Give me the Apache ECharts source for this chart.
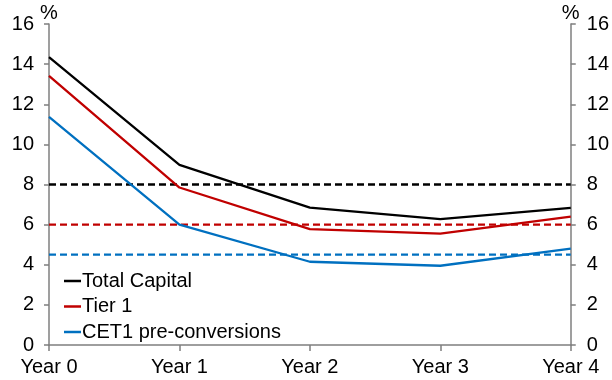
<!DOCTYPE html>
<html>
<head>
<meta charset="utf-8">
<script src="https://cdn.jsdelivr.net/npm/echarts@6/dist/echarts.min.js"></script>
<style>
  html, body { margin: 0; padding: 0; background: #fff; }
  #chart { width: 612px; height: 380px; }
</style>
</head>
<body>
<div id="chart"></div>
<script>
// Capital ratios by projection year (%)
const years = ['Year 0', 'Year 1', 'Year 2', 'Year 3', 'Year 4'];
const totalCapital = [14.35, 8.98, 6.85, 6.27, 6.83];
const tier1 = [13.42, 7.85, 5.78, 5.55, 6.40];
const cet1 = [11.37, 6.0, 4.15, 3.95, 4.80];

// Regulatory minimum levels (dashed)
const minTotalCapital = 8;
const minTier1 = 6;
const minCet1 = 4.5;

const yTicks = [0, 2, 4, 6, 8, 10, 12, 14, 16];

const BLACK = '#000000';
const RED = '#C00000';
const BLUE = '#0070C0';
const AXIS = '#7f7f7f';
const FONT = 'Liberation Sans';
const FS = 20;
const LW = 2.3;
const DASH = [7, 4];

function flat(v) { return years.map(() => v); }

function valueAxis(pos) {
  return {
    type: 'value',
    position: pos,
    min: yTicks[0],
    max: yTicks[yTicks.length - 1],
    interval: 2,
    name: '%',
    nameLocation: 'end',
    nameGap: 1,
    nameTextStyle: {
      fontFamily: FONT, fontSize: FS, color: '#000',
      align: 'center', verticalAlign: 'bottom'
    },
    axisLine: { show: true, lineStyle: { color: AXIS, width: 1.5 } },
    axisTick: { show: true, inside: false, length: 5, lineStyle: { color: AXIS, width: 1.5 } },
    axisLabel: { fontFamily: FONT, fontSize: FS, color: '#000', margin: pos === 'left' ? 15 : 16 },
    splitLine: { show: false }
  };
}

const chart = echarts.init(document.getElementById('chart'), null, { renderer: 'canvas' });

chart.setOption({
  animation: false,
  backgroundColor: '#ffffff',
  grid: { left: 49, right: 41, top: 24, bottom: 35, containLabel: false },
  legend: {
    orient: 'vertical',
    left: 59,
    top: 265,
    itemWidth: 17,
    itemHeight: 2.5,
    itemGap: 3.5,
    icon: 'rect',
    data: ['Total Capital', 'Tier 1', 'CET1 pre-conversions'],
    textStyle: {
      fontFamily: FONT, fontSize: FS, color: '#000',
      lineHeight: 22, padding: [0, 0, 0, -4]
    }
  },
  xAxis: {
    type: 'category',
    data: years,
    boundaryGap: false,
    axisLine: { show: true, lineStyle: { color: AXIS, width: 1.5 } },
    axisTick: { show: true, inside: false, length: 6, alignWithLabel: true, lineStyle: { color: AXIS, width: 1.5 } },
    axisLabel: { fontFamily: FONT, fontSize: FS, color: '#000', margin: 12, interval: 0 },
    splitLine: { show: false }
  },
  yAxis: [valueAxis('left'), valueAxis('right')],
  series: [
    {
      name: 'min Total Capital', type: 'line', data: flat(minTotalCapital),
      symbol: 'none', silent: true,
      lineStyle: { color: BLACK, width: LW, type: DASH }
    },
    {
      name: 'min Tier 1', type: 'line', data: flat(minTier1),
      symbol: 'none', silent: true,
      lineStyle: { color: RED, width: LW, type: DASH }
    },
    {
      name: 'min CET1', type: 'line', data: flat(minCet1),
      symbol: 'none', silent: true,
      lineStyle: { color: BLUE, width: LW, type: DASH }
    },
    {
      name: 'Total Capital', type: 'line', data: totalCapital,
      symbol: 'none', itemStyle: { color: BLACK },
      lineStyle: { color: BLACK, width: LW }
    },
    {
      name: 'Tier 1', type: 'line', data: tier1,
      symbol: 'none', itemStyle: { color: RED },
      lineStyle: { color: RED, width: LW }
    },
    {
      name: 'CET1 pre-conversions', type: 'line', data: cet1,
      symbol: 'none', itemStyle: { color: BLUE },
      lineStyle: { color: BLUE, width: LW }
    }
  ]
});
</script>
</body>
</html>
